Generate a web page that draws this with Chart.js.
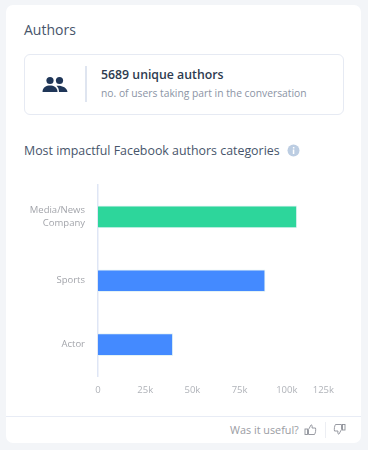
<!DOCTYPE html>
<html><head><meta charset="utf-8">
<script src="https://cdn.jsdelivr.net/npm/chart.js@4"></script>
<style>
html,body{margin:0;padding:0;width:368px;height:450px;overflow:hidden;background:#f3f5f8;font-family:"Open Sans",sans-serif}
#page{position:absolute;left:0;top:0;width:368px;height:450px;filter:blur(0.35px)}
#card{position:absolute;left:6px;top:5px;width:355px;height:438px;background:#fff;border-radius:7px}
.t{position:absolute;white-space:nowrap;line-height:1}
#box{position:absolute;left:24px;top:54px;width:318px;height:59px;border:1px solid #e6eaf3;border-radius:6px}
#div1{position:absolute;left:85px;top:66px;width:2px;height:36px;background:#dfe5f0}
#foot{position:absolute;left:6px;top:416px;width:355px;height:1px;background:#e8ecf5}
#div2{position:absolute;left:325px;top:422px;width:1px;height:16px;background:#eceef3}
#wrap{position:absolute;left:20px;top:180px;width:320px;height:220px}
svg{position:absolute}
</style></head><body><div id="page">
<div id="card"></div>
<div class="t" style="left:24px;top:23px;font-size:14px;color:#47556b">Authors</div>
<div id="box"></div><div id="div1"></div>
<svg style="left:42px;top:76px" width="26" height="18" viewBox="0 0 26 18" fill="#1f3658">
<circle cx="8" cy="4.5" r="3.6"/><circle cx="17.5" cy="4.5" r="3.6"/>
<path d="M0.5 16 C0.5 11 4.5 9.5 8 9.5 C11.5 9.5 15.5 11 15.5 16 Z"/>
<path d="M14.5 9.8 C19 9 25 11 25.5 16 L17 16 C17 13.5 16 11 14.5 9.8 Z"/></svg>
<div class="t" style="left:101px;top:69px;font-size:12.3px;font-weight:600;color:#2d3b50">5689 unique authors</div>
<div class="t" style="left:101px;top:88px;font-size:10.3px;color:#8b94a5">no. of users taking part in the conversation</div>
<div class="t" style="left:24px;top:145px;font-size:12.4px;color:#47556b">Most impactful Facebook authors categories</div>
<svg style="left:287px;top:144px" width="13" height="13" viewBox="0 0 13 13"><circle cx="6.5" cy="6.5" r="6" fill="#bccde2"/><rect x="5.8" y="5.5" width="1.5" height="4.5" fill="#fff"/><rect x="5.9" y="3" width="1.5" height="1.5" fill="#fff"/></svg>
<div id="wrap"><canvas id="c" width="320" height="220"></canvas></div>
<div id="foot"></div><div id="div2"></div>
<div class="t" style="left:230px;top:425px;font-size:10.8px;color:#9a9ca3">Was it useful?</div>
<svg style="left:304px;top:423px" width="13" height="13" viewBox="0 0 13 13" fill="none" stroke="#8d9098" stroke-width="0.9"><rect x="1" y="6" width="2.5" height="5.5"/><path d="M4.5 6.5 L7 2 C8 1.5 8.5 3 8 5 L11.5 5 C12 7 11.5 10 10.5 11.5 L4.5 11.5 Z"/></svg>
<svg style="left:333px;top:423px" width="13" height="13" viewBox="0 0 13 13" fill="none" stroke="#8d9098" stroke-width="0.9" transform="rotate(180)"><rect x="1" y="6" width="2.5" height="5.5"/><path d="M4.5 6.5 L7 2 C8 1.5 8.5 3 8 5 L11.5 5 C12 7 11.5 10 10.5 11.5 L4.5 11.5 Z"/></svg>
</div>
<script>
const categories = [['Media/News','Company'],'Sports','Actor'];
const impact = [105300, 88500, 39600];
const barColors = ['#2dd69b','#448aff','#448aff'];
const tickValues = [0,25000,50000,75000,100000,125000];
const tickNames = ['0','25k','50k','75k','100k','125k'];
const tickFont = {family:'"Open Sans"',size:9.5,lineHeight:1.32};
const lastTickRight = {
  id:'lastTickRight',
  beforeDraw(chart){
    const s = chart.scales.x;
    if(s._wrappedItems) return;
    const orig = s._computeLabelItems.bind(s);
    s._computeLabelItems = function(area){
      const items = orig(area);
      const last = items[items.length-1];
      if(last){ last.options.textAlign='right'; }
      return items;
    };
    s._labelItems = null;
    s._wrappedItems = true;
  }
};
new Chart(document.getElementById('c'),{
  type:'bar',
  plugins:[lastTickRight],
  data:{labels:categories,datasets:[{data:impact,backgroundColor:barColors,borderColor:'#e4f3f4',borderWidth:1,barThickness:22}]},
  options:{
    indexAxis:'y',responsive:false,animation:false,
    layout:{padding:{top:5,right:6,left:0,bottom:0}},
    plugins:{legend:{display:false},tooltip:{enabled:false}},
    scales:{
      x:{min:0,max:125000,
        afterBuildTicks(a){a.ticks=tickValues.map(v=>({value:v}));},
        afterFit(a){a.height=23.5;a.paddingRight=0;a.paddingLeft=0;},
        grid:{display:false,drawTicks:false},border:{display:false},
        ticks:{autoSkip:false,maxRotation:0,padding:8,color:'#b0b3b9',font:tickFont,callback:(v,i)=>tickNames[i]}},
      y:{afterFit(a){a.width=78;a.paddingTop=0;a.paddingBottom=0;},
        grid:{display:false,drawTicks:false},border:{display:true,color:'#dfe6f5',width:1.5},
        ticks:{padding:13,color:'#a3a5ab',font:tickFont}}
    }
  }
});
</script>
</body></html>
